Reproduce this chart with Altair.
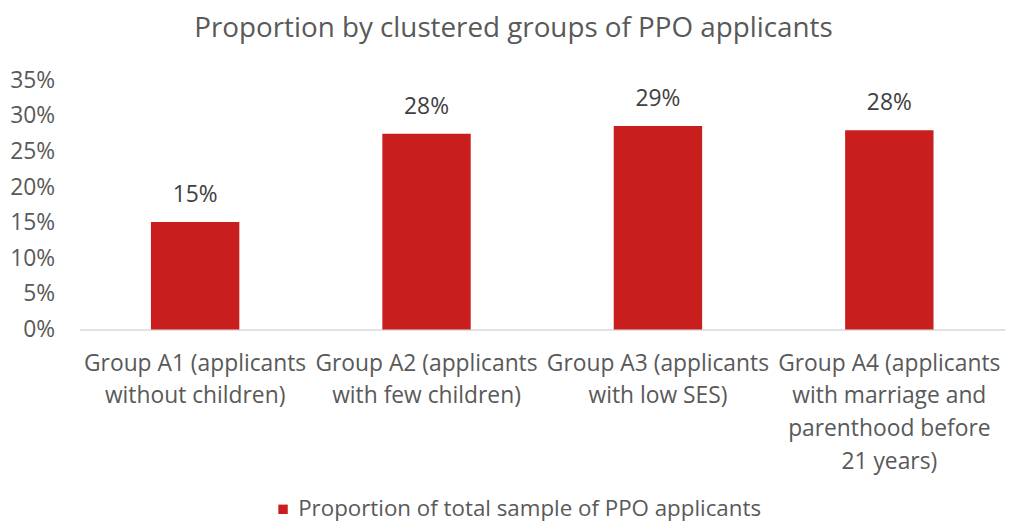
import altair as alt
import pandas as pd

label_lines = [
    "Group A1 (applicants|without children)",
    "Group A2 (applicants|with few children)",
    "Group A3 (applicants|with low SES)",
    "Group A4 (applicants|with marriage and|parenthood before|21 years)",
]
values = [0.151, 0.275, 0.286, 0.280]
series = "Proportion of total sample of PPO applicants"
y_ticks = [0, 0.05, 0.1, 0.15, 0.2, 0.25, 0.3, 0.35]

df = pd.DataFrame({"group": label_lines, "value": values, "series": [series] * 4})

FONT = "Open Sans"
GREY = "#595959"
RED = "#C81E1E"
FS = 23

base = alt.Chart(df).encode(
    x=alt.X("group:N", sort=label_lines, title=None,
            scale=alt.Scale(paddingInner=0.618, paddingOuter=0.309),
            axis=alt.Axis(labelAngle=0, labelExpr="split(datum.label, '|')",
                          labelFontSize=FS, labelColor=GREY, labelFont=FONT,
                          labelLineHeight=33, labelPadding=23, ticks=False,
                          domainColor="#d9d9d9", domainWidth=1.5,
                          labelLimit=300, labelBaseline="top")),
    y=alt.Y("value:Q", title=None,
            scale=alt.Scale(domain=[0, 0.35]),
            axis=alt.Axis(format=".0%", values=y_ticks, labelOverlap=False,
                          grid=False, domain=False, ticks=False,
                          labelFontSize=FS, labelColor=GREY, labelFont=FONT,
                          labelPadding=25)),
)

bars = base.mark_bar(color=RED).encode(
    color=alt.Color("series:N", scale=alt.Scale(range=[RED]),
                    legend=alt.Legend(title=None, orient="none", legendX=194, legendY=421,
                                      direction="horizontal", symbolType="square",
                                      symbolSize=90, labelFontSize=22.5, labelColor=GREY,
                                      labelFont=FONT, labelLimit=700)),
)

texts = base.mark_text(baseline="bottom", dy=-15, fontSize=FS, color="#404040", font=FONT).encode(
    text=alt.Text("value:Q", format=".0%"),
)

chart = (bars + texts).properties(
    width=933, height=251,
    autosize=alt.AutoSizeParams(type="none"),
    padding={"left": 72, "top": 71, "right": 3, "bottom": 193},
    title=alt.TitleParams("Proportion by clustered groups of PPO applicants",
                          fontSize=28, font=FONT, color=GREY, fontWeight="normal",
                          offset=27, dx=-29),
).configure_view(stroke=None)

chart.save("out.html", embed_options={"renderer": "svg", "actions": False})
